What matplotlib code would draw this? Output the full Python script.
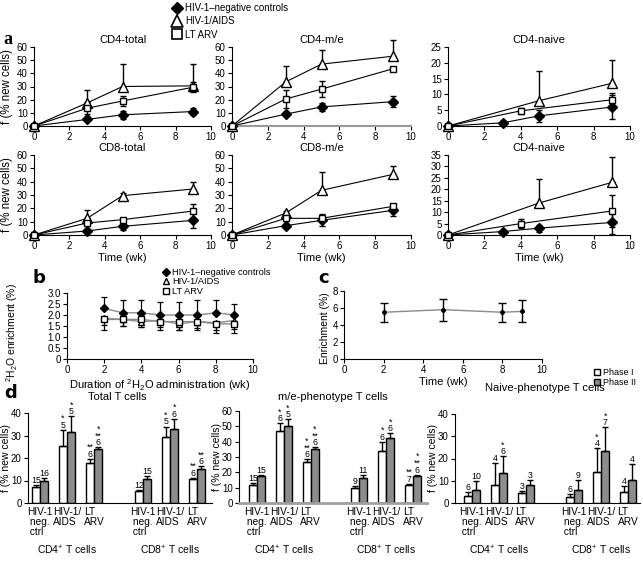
import matplotlib
matplotlib.use("Agg")
import matplotlib.pyplot as plt
from matplotlib.lines import Line2D
from matplotlib.patches import Patch
from matplotlib.transforms import blended_transform_factory

plt.rcParams['font.family'] = ['Liberation Sans', 'DejaVu Sans']
plt.rcParams['mathtext.fontset'] = 'custom'
plt.rcParams['mathtext.rm'] = 'Liberation Sans'
plt.rcParams['mathtext.it'] = 'Liberation Sans'
plt.rcParams['font.size'] = 7

# ---------------- Panel a data ----------------
weeks4 = [0, 3, 5, 9]
weeks_aids_naive = [0, 5, 9]
weeks_lt_naive = [0, 4, 9]

cd4_total_ctrl = [0, 5, 8.5, 11];      cd4_total_ctrl_err = [0, 1.5, 3, 2.5]
cd4_total_aids = [0, 17.5, 30, 30.5];  cd4_total_aids_err = [0, 9.5, 17, 16.5]
cd4_total_lt = [0, 13.5, 19, 29.5];    cd4_total_lt_err = [0, 4.5, 3.5, 4]

cd4_me_ctrl = [0, 9, 14.5, 18.5];      cd4_me_ctrl_err = [0, 1.5, 3, 4]
cd4_me_aids = [0, 33.5, 47, 53];       cd4_me_aids_err = [0, 12, 11, 12]
cd4_me_lt = [0, 20.5, 28, 43.5];       cd4_me_lt_err = [0, 6.5, 6, 1]

cd4_naive_ctrl = [0, 1, 3.2, 6];       cd4_naive_ctrl_err = [0, 0.5, 2, 3.8]
cd4_naive_aids = [0, 8, 13.5];         cd4_naive_aids_err = [0, 9.5, 7.5]
cd4_naive_lt = [0, 4.8, 8.3];          cd4_naive_lt_err = [0, 1, 2.3]

cd8_total_ctrl = [0, 3, 6.5, 11];      cd8_total_ctrl_err = [0, 1, 3, 6]
cd8_total_aids = [0, 12.5, 29.5, 34.5]; cd8_total_aids_err = [0, 6, 2, 5.5]
cd8_total_lt = [0, 9, 11.5, 18];       cd8_total_lt_err = [0, 1.5, 1.5, 5]

cd8_me_ctrl = [0, 7, 11, 18.5];        cd8_me_ctrl_err = [0, 1.5, 4.5, 4.5]
cd8_me_aids = [0, 16.5, 33.5, 45.5];   cd8_me_aids_err = [0, 1.5, 13.5, 6]
cd8_me_lt = [0, 12.5, 12.5, 21.5];     cd8_me_lt_err = [0, 2, 2, 1.5]

cd8_naive_ctrl = [0, 1.5, 3, 5.5];     cd8_naive_ctrl_err = [0, 0.8, 1.5, 5]
cd8_naive_aids = [0, 14, 23];          cd8_naive_aids_err = [0, 10.5, 11]
cd8_naive_lt = [0, 5, 10.5];           cd8_naive_lt_err = [0, 2, 7]

group_labels = ["HIV-1\u2013negative controls", "HIV-1/AIDS", "LT ARV"]

# ---------------- Panel b data ----------------
b_weeks = [2, 3, 4, 5, 6, 7, 8, 9]
b_ctrl = [2.3, 2.1, 2.1, 2.0, 2.0, 2.0, 2.1, 2.0]
b_ctrl_err = [0.5, 0.6, 0.6, 0.6, 0.6, 0.7, 0.6, 0.5]
b_aids = [1.85, 1.8, 1.7, 1.75, 1.6, 1.7, 1.65, 1.75]
b_aids_err = [0.3, 0.3, 0.25, 0.3, 0.3, 0.3, 0.35, 0.4]
b_lt = [1.8, 1.8, 1.8, 1.7, 1.7, 1.7, 1.6, 1.6]
b_lt_err = [0.5, 0.3, 0.35, 0.4, 0.4, 0.4, 0.4, 0.4]

# ---------------- Panel c data ----------------
c_weeks = [2, 5, 8, 9]
c_vals = [5.5, 5.8, 5.5, 5.6]
c_err = [1.1, 1.3, 1.1, 1.3]

# ---------------- Panel d data ----------------
bar_groups = ["HIV-1\n neg.\n ctrl", "HIV-1/\nAIDS", "LT\nARV"]
cell_types = ["CD4$^{+}$ T cells", "CD8$^{+}$ T cells"]
phase_labels = ["Phase I", "Phase II"]

tot_p1 = [7, 25.5, 18, 5.3, 29.5, 10.8]
tot_p1_err = [0.8, 7, 1.5, 0.5, 4.5, 0.5]
tot_p2 = [10, 31.5, 24, 10.5, 33, 15]
tot_p2_err = [1, 7, 0.8, 1.3, 4.5, 1.3]
tot_p1_ann = ["15", "*\n5", "**\n6", "12", "*\n5", "**\n6"]
tot_p2_ann = ["16", "*\n5", "*\n**\n6", "15", "*\n6", "**\n6"]

me_p1 = [11.5, 47, 26.5, 10, 34, 12]
me_p1_err = [1.5, 5, 2, 1.2, 6, 0.5]
me_p2 = [17.5, 50, 35.5, 16.5, 42.5, 17.5]
me_p2_err = [0.8, 4.5, 0.8, 2, 3, 1]
me_p1_ann = ["15", "*\n6", "*\n**\n6", "9", "*\n6", "**\n7"]
me_p2_ann = ["15", "*\n5", "*\n**\n6", "11", "*\n6", "*\n**\n6"]

nv_p1 = [3.2, 8, 4.5, 2.7, 14, 5]
nv_p1_err = [1.8, 10, 0.7, 1.5, 10.5, 2.5]
nv_p2 = [6, 13.5, 8, 5.7, 23.3, 10.5]
nv_p2_err = [4, 7.5, 2.5, 4.5, 10.7, 7]
nv_p1_ann = ["6", "4", "3", "6", "*\n4", "4"]
nv_p2_ann = ["10", "*\n6", "3", "9", "*\n7", "4"]

# ---------------- Figure ----------------
W, H = 643, 565
fig = plt.figure(figsize=(W / 100, H / 100), dpi=100)


def px_axes(l, t, r, b):
    return fig.add_axes([l / W, 1 - b / H, (r - l) / W, (b - t) / H])


def style(ax, fs=7):
    for s in ['top', 'right']:
        ax.spines[s].set_visible(False)
    ax.spines['left'].set_linewidth(0.8)
    ax.spines['bottom'].set_linewidth(0.8)
    ax.tick_params(direction='out', length=3, width=0.8, labelsize=fs, pad=1.5)


def noclip(cont):
    for art in cont.get_children():
        art.set_clip_on(False)


def line_panel(ax, title, cx, cy, ce, ax_, ay, ae, lx, ly, le, ymax, ystep):
    style(ax)
    c = ax.errorbar(cx, cy, yerr=ce, color='k', marker='D', ms=5, mfc='k', mec='k',
                    lw=0.8, elinewidth=1, capsize=2.5, capthick=1, zorder=3)
    noclip(c)
    a = ax.errorbar(ax_, ay, yerr=[[0] * len(ae), ae], color='k', marker='^', ms=6.5,
                    mfc='white', mec='k', mew=1, lw=0.8, elinewidth=1, capsize=2.5,
                    capthick=1, zorder=3)
    noclip(a)
    l = ax.errorbar(lx, ly, yerr=le, color='k', marker='s', ms=5, mfc='white', mec='k',
                    mew=1, lw=0.8, elinewidth=1, capsize=2.5, capthick=1, zorder=3)
    noclip(l)
    ax.set_xlim(0, 10)
    ax.set_ylim(0, ymax)
    ax.set_xticks(range(0, 11, 2))
    ax.set_yticks(range(0, ymax + 1, ystep))
    ax.set_title(title, fontsize=8, pad=3)


cols = [(34, 211), (232, 411), (448, 630)]
row1 = (47, 126)
row2 = (155, 235)

a1 = px_axes(cols[0][0], row1[0], cols[0][1], row1[1])
line_panel(a1, "CD4-total", weeks4, cd4_total_ctrl, cd4_total_ctrl_err, weeks4, cd4_total_aids,
           cd4_total_aids_err, weeks4, cd4_total_lt, cd4_total_lt_err, 60, 10)
a2 = px_axes(cols[1][0], row1[0], cols[1][1], row1[1])
line_panel(a2, "CD4-m/e", weeks4, cd4_me_ctrl, cd4_me_ctrl_err, weeks4, cd4_me_aids,
           cd4_me_aids_err, weeks4, cd4_me_lt, cd4_me_lt_err, 60, 10)
a2.spines['bottom'].set_color('#999999')
a2.spines['bottom'].set_linewidth(1.5)
a3 = px_axes(cols[2][0], row1[0], cols[2][1], row1[1])
line_panel(a3, "CD4-naive", weeks4, cd4_naive_ctrl, cd4_naive_ctrl_err, weeks_aids_naive,
           cd4_naive_aids, cd4_naive_aids_err, weeks_lt_naive, cd4_naive_lt, cd4_naive_lt_err, 25, 5)
a4 = px_axes(cols[0][0], row2[0], cols[0][1], row2[1])
line_panel(a4, "CD8-total", weeks4, cd8_total_ctrl, cd8_total_ctrl_err, weeks4, cd8_total_aids,
           cd8_total_aids_err, weeks4, cd8_total_lt, cd8_total_lt_err, 60, 10)
a5 = px_axes(cols[1][0], row2[0], cols[1][1], row2[1])
line_panel(a5, "CD8-m/e", weeks4, cd8_me_ctrl, cd8_me_ctrl_err, weeks4, cd8_me_aids,
           cd8_me_aids_err, weeks4, cd8_me_lt, cd8_me_lt_err, 60, 10)
a6 = px_axes(cols[2][0], row2[0], cols[2][1], row2[1])
line_panel(a6, "CD4-naive", weeks4, cd8_naive_ctrl, cd8_naive_ctrl_err, weeks_aids_naive,
           cd8_naive_aids, cd8_naive_aids_err, weeks_lt_naive, cd8_naive_lt, cd8_naive_lt_err, 35, 5)

for ax in (a1, a4):
    ax.set_ylabel("f (% new cells)", fontsize=8.3)
    ax.yaxis.set_label_coords((13 - 34) / 177, 0.5)
for ax in (a4, a5, a6):
    ax.set_xlabel("Time (wk)", fontsize=8, labelpad=1.5)

handles = [Line2D([], [], ls='none', marker='D', ms=6.5, mfc='k', mec='k'),
           Line2D([], [], ls='none', marker='^', ms=8, mfc='white', mec='k', mew=1.2),
           Line2D([], [], ls='none', marker='s', ms=7, mfc='white', mec='k', mew=1.2)]
fig.legend(handles, group_labels, loc='upper left', bbox_to_anchor=(172 / W, 1 - 3 / H),
           frameon=False, fontsize=7, handlelength=1.0, handletextpad=0.35,
           labelspacing=0.35, borderpad=0, borderaxespad=0)

fig.text(3 / W, 1 - 39 / H, "a", fontsize=13, fontweight='bold', family='Liberation Serif',
         va='center', ha='left')

# ---------------- Panel b ----------------
bx = px_axes(67, 293, 253, 359)
style(bx)
gl = '#8a8a8a'
bx.errorbar(b_weeks, b_ctrl, yerr=[[0] * len(b_ctrl_err), b_ctrl_err], color=gl, marker='D',
            ms=4.5, mfc='k', mec='k', lw=1, ecolor='k', elinewidth=0.9, capsize=2.5, capthick=0.9)
bx.errorbar(b_weeks, b_aids, yerr=[b_aids_err, [0] * len(b_aids_err)], color=gl, marker='^',
            ms=5, mfc='white', mec='k', lw=1, ecolor='k', elinewidth=0.9, capsize=2.5, capthick=0.9)
bx.errorbar(b_weeks, b_lt, yerr=[b_lt_err, [0] * len(b_lt_err)], color=gl, marker='s',
            ms=4.5, mfc='white', mec='k', lw=1, ecolor='k', elinewidth=0.9, capsize=2.5, capthick=0.9)
bx.set_xlim(0, 10)
bx.set_ylim(0, 3.0)
bx.set_xticks(range(0, 11, 2))
bx.set_yticks([0, 0.5, 1.0, 1.5, 2.0, 2.5, 3.0])
bx.set_yticklabels(["0", "0.5", "1.0", "1.5", "2.0", "2.5", "3.0"])
bx.set_xlabel("Duration of $^{2}$H$_{2}$O administration (wk)", fontsize=8, labelpad=1.5)
bx.set_ylabel("$^{2}$H$_{2}$O enrichment (%)", fontsize=7.5)
bx.yaxis.set_label_coords((20 - 67) / 186, 0.4)
bh = [Line2D([], [], ls='none', marker='D', ms=4, mfc='k', mec='k'),
      Line2D([], [], ls='none', marker='^', ms=5, mfc='white', mec='k'),
      Line2D([], [], ls='none', marker='s', ms=4.5, mfc='white', mec='k')]
fig.legend(bh, group_labels, loc='upper left', bbox_to_anchor=(162 / W, 1 - 268 / H),
           frameon=False, fontsize=6.7, handlelength=0.8, handletextpad=0.3,
           labelspacing=0.05, borderpad=0, borderaxespad=0)
fig.text(33 / W, 1 - 278 / H, "b", fontsize=13, fontweight='bold', family='DejaVu Sans',
         va='center', ha='left')

# ---------------- Panel c ----------------
cx = px_axes(344, 291, 542, 359)
style(cx)
cx.errorbar(c_weeks, c_vals, yerr=c_err, color=gl, marker='o', ms=2.5, mfc='k', mec='k', lw=1,
            ecolor='k', elinewidth=1, capsize=3, capthick=1)
cx.set_xlim(0, 10)
cx.set_ylim(0, 8)
cx.set_xticks(range(0, 11, 2))
cx.set_yticks(range(0, 9, 2))
cx.set_xlabel("Time (wk)", fontsize=8, labelpad=1.5)
cx.set_ylabel("Enrichment (%)", fontsize=7.5)
cx.yaxis.set_label_coords((330 - 344) / 198, 0.45)
fig.text(318 / W, 1 - 278 / H, "c", fontsize=13, fontweight='bold', family='DejaVu Sans',
         va='center', ha='left')

# ---------------- Panel d ----------------
pos = [0, 1, 2, 3.8, 4.8, 5.8]
bw = 0.3
GRAY = '#8c8c8c'


def bar_panel(ax, p1, p1e, p2, p2e, ann1, ann2, ymax, ystep, xlim, cell_y, ylab_x):
    style(ax)
    xs1 = [p - bw / 2 for p in pos]
    xs2 = [p + bw / 2 for p in pos]
    ekw = dict(elinewidth=1, capthick=1, ecolor='k')
    ax.bar(xs1, p1, bw, color='white', edgecolor='k', lw=1,
           yerr=[[0] * len(p1e), p1e], capsize=2.2, error_kw=ekw)
    ax.bar(xs2, p2, bw, color=GRAY, edgecolor='k', lw=1,
           yerr=[[0] * len(p2e), p2e], capsize=2.2, error_kw=ekw)
    for x, v, er, t in zip(xs1, p1, p1e, ann1):
        ax.text(x, v + er, t, ha='center', va='bottom', fontsize=6.3,
                linespacing=0.7, clip_on=False)
    for x, v, er, t in zip(xs2, p2, p2e, ann2):
        ax.text(x, v + er, t, ha='center', va='bottom', fontsize=6.3,
                linespacing=0.7, clip_on=False)
    ax.set_ylim(0, ymax)
    ax.set_yticks(range(0, ymax + 1, ystep))
    ax.set_xlim(*xlim)
    ax.set_xticks(pos)
    ax.set_xticklabels(bar_groups * 2, fontsize=7.3, linespacing=1.0, va='top',
                       multialignment='left')
    ax.tick_params(axis='x', length=0, pad=3)
    ax.set_ylabel("f (% new cells)", fontsize=7.5)
    ax.yaxis.set_label_coords(ylab_x, 0.5)
    tr = blended_transform_factory(ax.transData, ax.transAxes)
    ax.text(1, cell_y, cell_types[0], transform=tr, ha='center', va='center', fontsize=7.5)
    ax.text(4.8, cell_y, cell_types[1], transform=tr, ha='center', va='center', fontsize=7.5)


d1 = px_axes(28, 413, 212, 503)
bar_panel(d1, tot_p1, tot_p1_err, tot_p2, tot_p2_err, tot_p1_ann, tot_p2_ann, 40, 10,
          (-0.44, 6.35), -(550 - 503) / 90, (11 - 28) / 184)
d2 = px_axes(239, 411, 427, 503)
bar_panel(d2, me_p1, me_p1_err, me_p2, me_p2_err, me_p1_ann, me_p2_ann, 60, 10,
          (-0.67, 6.32), -(550 - 503) / 92, (222 - 239) / 188)
d2.spines['bottom'].set_color('#a0a0a0')
d2.spines['bottom'].set_linewidth(2)
d3 = px_axes(455, 414, 640, 503)
bar_panel(d3, nv_p1, nv_p1_err, nv_p2, nv_p2_err, nv_p1_ann, nv_p2_ann, 40, 10,
          (-0.63, 6.25), -(550 - 503) / 89, (438 - 455) / 185)

fig.text(117 / W, 1 - 397 / H, "Total T cells", fontsize=8, ha='center', va='center')
fig.text(333 / W, 1 - 397 / H, "m/e-phenotype T cells", fontsize=8, ha='center', va='center')
fig.text(545 / W, 1 - 388 / H, "Naive-phenotype T cells", fontsize=8, ha='center', va='center')

ph = [Patch(facecolor='white', edgecolor='k', lw=1), Patch(facecolor=GRAY, edgecolor='k', lw=1)]
fig.legend(ph, phase_labels, loc='upper left', bbox_to_anchor=(594 / W, 1 - 368 / H),
           frameon=False, fontsize=6.5, handlelength=0.7, handleheight=0.7, handletextpad=0.3,
           labelspacing=0.1, borderpad=0, borderaxespad=0)
fig.text(4 / W, 1 - 393 / H, "d", fontsize=13, fontweight='bold', family='DejaVu Sans',
         va='center', ha='left')

fig.savefig("out.png", dpi=100)
